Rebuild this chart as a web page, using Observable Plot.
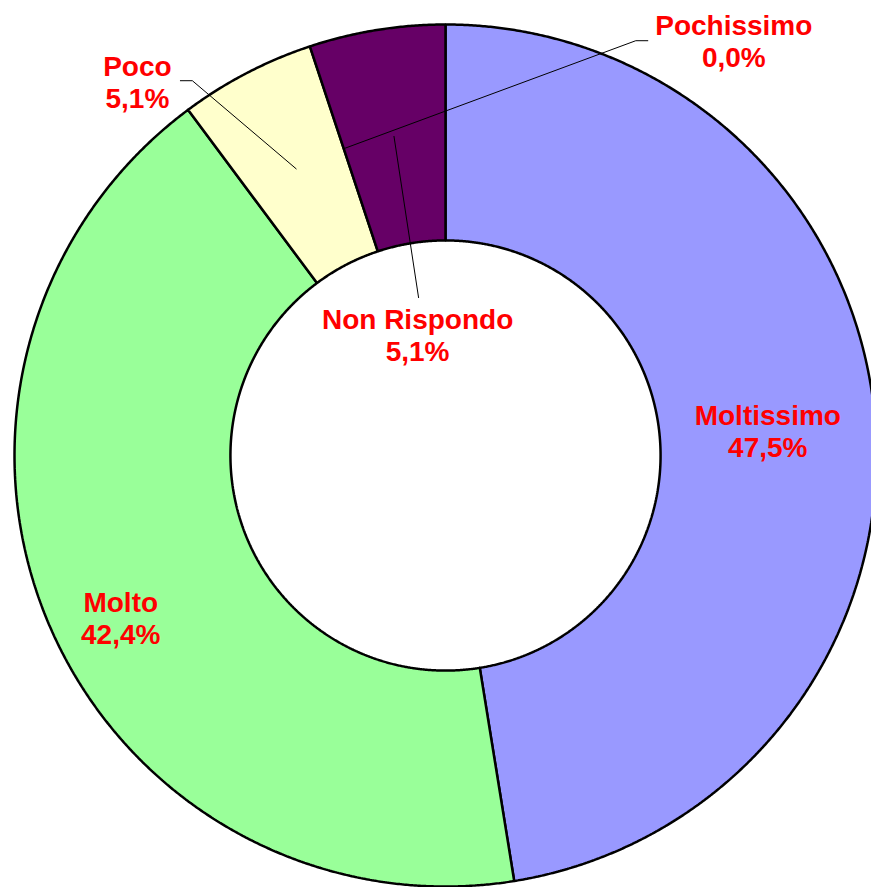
<!DOCTYPE html>
<html>
<head>
<meta charset="utf-8">
<script src="https://cdn.jsdelivr.net/npm/d3@7"></script>
<script src="https://cdn.jsdelivr.net/npm/@observablehq/plot@0.6"></script>
<style>
  html, body { margin: 0; padding: 0; background: #fff; overflow: hidden; }
</style>
</head>
<body>
<div id="chart"></div>
<script>
// ---- data ----
const names = ["Moltissimo", "Molto", "Poco", "Pochissimo", "Non Rispondo"];
const values = [47.5, 42.4, 5.1, 0.0, 5.1];
const colors = ["#9999FF", "#99FF99", "#FFFFCC", "#FFFFFF", "#660066"];

// ---- layout (label placement, polar: angle deg clockwise from top, radius as fraction of outer radius) ----
const labelAngle = [85.6, 243.5, 320.5, 34.8, 347];
const labelRadius = [0.75, 0.842, 1.124, 1.172, 0.288];
// leader points relative to label centre (in outer-radius units); null = no leader
const leaderOffsets = [
  null,
  null,
  [[0.0998, 0.0023], [0.1276, 0.0023]],
  [[-0.1995, 0], [-0.2274, 0]],
  [[0.0023, 0.0858]]
];
const innerRadius = 0.499;
const leaderRadius = 0.75;

// ---- geometry from data ----
const pie = d3.pie().sort(null).value(d => d)(values);
const polar = (a, r) => [r * Math.sin(a), r * Math.cos(a)];

const slicePts = [];
pie.forEach((p, i) => {
  if (p.value <= 0) return;
  const a0 = p.startAngle, a1 = p.endAngle;
  const n = Math.max(4, Math.ceil((a1 - a0) / (0.25 * Math.PI / 180)));
  for (let k = 0; k <= n; k++) {
    const a = a0 + (a1 - a0) * k / n;
    const [x, y] = polar(a, 1);
    slicePts.push({name: names[i], x, y});
  }
  for (let k = n; k >= 0; k--) {
    const a = a0 + (a1 - a0) * k / n;
    const [x, y] = polar(a, innerRadius);
    slicePts.push({name: names[i], x, y});
  }
});

const fmt = v => v.toFixed(1).replace(".", ",") + "%";
const labels = names.map((name, i) => {
  const [x, y] = polar(labelAngle[i] * Math.PI / 180, labelRadius[i]);
  return {name, x, y, text: name + "\n" + fmt(values[i])};
});

const leaderPts = [];
names.forEach((name, i) => {
  if (!leaderOffsets[i]) return;
  const L = labels[i];
  leaderOffsets[i].forEach(([dx, dy]) => leaderPts.push({name, x: L.x + dx, y: L.y + dy}));
  const mid = (pie[i].startAngle + pie[i].endAngle) / 2;
  const [x, y] = polar(mid, leaderRadius);
  leaderPts.push({name, x, y});
});

const chart = Plot.plot({
  width: 871,
  height: 887,
  margin: 0,
  x: {domain: [-1.0325, 0.9884], axis: null},
  y: {domain: [-1.0023, 1.0557], axis: null},
  color: {domain: names, range: colors},
  style: {background: "white"},
  marks: [
    Plot.line(slicePts, {x: "x", y: "y", z: "name", fill: "name", stroke: "black",
      strokeWidth: 2.5, curve: "linear-closed", strokeLinejoin: "miter"}),
    Plot.line(leaderPts, {x: "x", y: "y", z: "name", stroke: "black", strokeWidth: 1, curve: "linear"}),
    Plot.text(labels, {x: "x", y: "y", text: "text", fill: "#FF0000", fontSize: 28,
      fontWeight: "bold", fontFamily: "Liberation Sans, Arial, sans-serif", lineHeight: 1.14,
      textAnchor: "middle"})
  ]
});
document.getElementById("chart").appendChild(chart);
</script>
</body>
</html>
